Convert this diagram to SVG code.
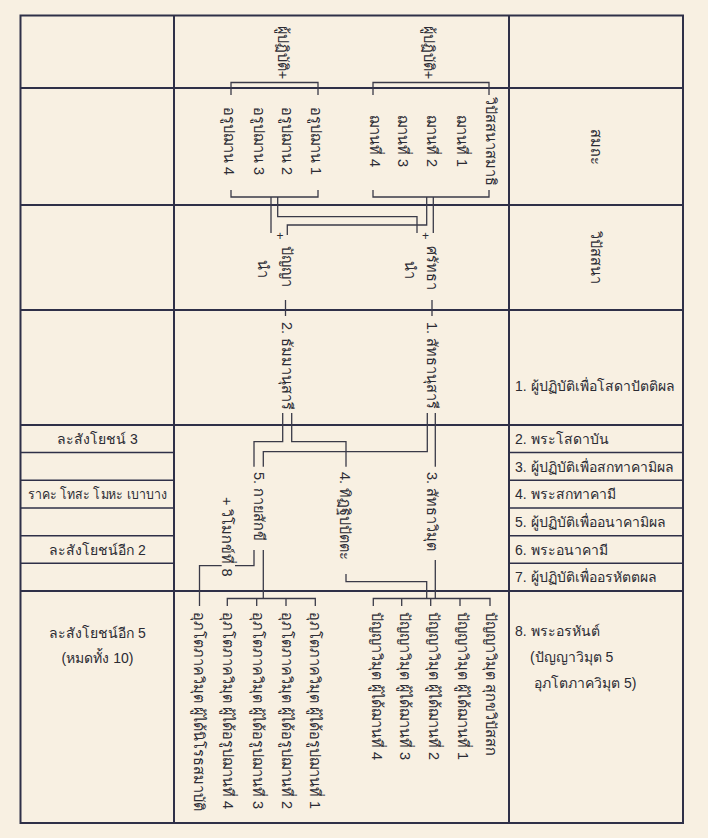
<svg xmlns="http://www.w3.org/2000/svg" width="708" height="838" viewBox="0 0 708 838">
<style>
.grid{stroke:#2f3048;stroke-width:2;fill:none}
.sub{stroke:#2f3048;stroke-width:1.6;fill:none}
.con{stroke:#3a3a48;stroke-width:1.3;fill:none}
text{font-family:"Liberation Sans","Noto Sans",sans-serif;font-size:14px;fill:#2b2b33}
.r{font-size:14.5px}
.m{text-anchor:middle}
</style>
<rect x="0" y="0" width="708" height="838" fill="#f8f0e2"/>
<g id="table">
<rect class="grid" x="20.5" y="15.5" width="662.5" height="807.5"/>
<line class="grid" x1="174" y1="15.5" x2="174" y2="823"/>
<line class="grid" x1="509" y1="15.5" x2="509" y2="823"/>
<line class="grid" x1="20.5" y1="88" x2="683" y2="88"/>
<line class="grid" x1="20.5" y1="205" x2="683" y2="205"/>
<line class="grid" x1="20.5" y1="310" x2="683" y2="310"/>
<line class="grid" x1="20.5" y1="425" x2="683" y2="425"/>
<line class="grid" x1="20.5" y1="591" x2="683" y2="591"/>
<path class="sub" d="M20.5,452.5H174M20.5,480.3H174M20.5,508H174M20.5,535.7H174M20.5,563.3H174"/>
<path class="sub" d="M509,452.5H683M509,480.3H683M509,508H683M509,535.7H683M509,563.3H683"/>
</g>
<g id="connectors">
<path class="con" d="M231,95V82.5H318V95M373,95V82.5H489V95"/>
<path class="con" d="M231,190V197H318V190M373,190V197H489V190"/>
<path class="con" d="M271,197V233M277.7,197V216.7H417V233M426.7,197V225H287.3V235M433.3,197V233"/>
<path class="con" d="M285.5,300V316M432,300V316"/>
<path class="con" d="M282.7,413V441.7H254V466.7M291.7,413V441.7H346V466.7M427.3,413V451.7H263.3V466.7M435.3,413V466.7"/>
<path class="con" d="M254,550V565.7H235M221.7,565.7H199.5V606M263.3,550V598.5M346,574V581.7H426.7V598.5M435.3,560V598.5"/>
<path class="con" d="M227.3,606V598.5H315.3V606M256.7,598.5V606M286,598.5V606"/>
<path class="con" d="M373.3,606V598.5H490V606M401.7,598.5V606M430.7,598.5V606M460,598.5V606"/>
</g>
<g id="top-labels">
<text class="m r" transform="translate(277.5,52.5) rotate(90)">ผู้ปฏิบัติ+</text>
<text class="m r" transform="translate(423.5,52.5) rotate(90)">ผู้ปฏิบัติ+</text>
</g>
<g id="jhana">
<text class="m r" transform="translate(486,141) rotate(90)">วิปัสสนาสมาธิ</text>
<text class="m r" transform="translate(456.5,141) rotate(90)">ฌานที่ 1</text>
<text class="m r" transform="translate(427,141) rotate(90)">ฌานที่ 2</text>
<text class="m r" transform="translate(398,141) rotate(90)">ฌานที่ 3</text>
<text class="m r" transform="translate(369.5,141) rotate(90)">ฌานที่ 4</text>
</g>
<g id="arupa">
<text class="m r" transform="translate(311,141) rotate(90)">อรูปฌาน 1</text>
<text class="m r" transform="translate(282,141) rotate(90)">อรูปฌาน 2</text>
<text class="m r" transform="translate(253.5,141) rotate(90)">อรูปฌาน 3</text>
<text class="m r" transform="translate(224,141) rotate(90)">อรูปฌาน 4</text>
</g>
<g id="panya">
<text x="276.5" y="240" style="font-size:12px">+</text>
<text class="r" transform="translate(282,246) rotate(90)">ปัญญา</text>
<text class="r" transform="translate(258,260) rotate(90)">นำ</text>
</g>
<g id="saddha">
<text x="422" y="240" style="font-size:12px">+</text>
<text class="r" transform="translate(427,246) rotate(90)">ศรัทธา</text>
<text class="r" transform="translate(405,261) rotate(90)">นำ</text>
</g>
<g id="dhammanusari"><text class="r" transform="translate(282,322) rotate(90)">2. ธัมมานุสารี</text></g>
<g id="saddhanusari"><text class="r" transform="translate(427,322) rotate(90)">1. สัทธานุสารี</text></g>
<g id="kayasakkhi"><text class="r" transform="translate(253.5,472) rotate(90)">5. กายสักขี</text></g>
<g id="ditthippatta"><text class="r" transform="translate(340,472) rotate(90)">4. ทิฏฐิปปัตตะ</text></g>
<g id="saddhavimutta"><text class="r" transform="translate(427,472) rotate(90)">3. สัทธาวิมุต</text></g>
<g id="vimokkha8"><text class="r" transform="translate(222,497) rotate(90)">+ วิโมกข์ที่ 8</text></g>
<g id="panyavimutta">
<text class="r" transform="translate(486,612) rotate(90)">ปัญญาวิมุต สุกขวิปัสสก</text>
<text class="r" transform="translate(458,612) rotate(90)">ปัญญาวิมุต ผู้ได้ฌานที่ 1</text>
<text class="r" transform="translate(428.5,612) rotate(90)">ปัญญาวิมุต ผู้ได้ฌานที่ 2</text>
<text class="r" transform="translate(400,612) rotate(90)">ปัญญาวิมุต ผู้ได้ฌานที่ 3</text>
<text class="r" transform="translate(371.5,612) rotate(90)">ปัญญาวิมุต ผู้ได้ฌานที่ 4</text>
</g>
<g id="ubhato">
<text class="r" transform="translate(310,612) rotate(90)">อุภโตภาควิมุต ผู้ได้อรูปฌานที่ 1</text>
<text class="r" transform="translate(281.7,612) rotate(90)">อุภโตภาควิมุต ผู้ได้อรูปฌานที่ 2</text>
<text class="r" transform="translate(253.3,612) rotate(90)">อุภโตภาควิมุต ผู้ได้อรูปฌานที่ 3</text>
<text class="r" transform="translate(223.3,612) rotate(90)">อุภโตภาควิมุต ผู้ได้อรูปฌานที่ 4</text>
<text class="r" transform="translate(194,612) rotate(90)">อุภโตภาควิมุต ผู้ได้นิโรธสมาบัติ</text>
</g>
<g id="right-col">
<text class="m r" transform="translate(591,147) rotate(90)">สมถะ</text>
<text class="m r" transform="translate(591,257) rotate(90)">วิปัสสนา</text>
<text x="515" y="391">1. ผู้ปฏิบัติเพื่อโสดาปัตติผล</text>
<text x="515" y="444">2. พระโสดาบัน</text>
<text x="515" y="471.5">3. ผู้ปฏิบัติเพื่อสกทาคามิผล</text>
<text x="515" y="499">4. พระสกทาคามี</text>
<text x="515" y="527">5. ผู้ปฏิบัติเพื่ออนาคามิผล</text>
<text x="515" y="554.5">6. พระอนาคามี</text>
<text x="515" y="582">7. ผู้ปฏิบัติเพื่ออรหัตตผล</text>
<text x="515" y="636">8. พระอรหันต์</text>
<text x="530" y="662">(ปัญญาวิมุต 5</text>
<text x="534" y="688">อุภโตภาควิมุต 5)</text>
</g>
<g id="left-col">
<text class="m" x="97.5" y="444">ละสังโยชน์ 3</text>
<text class="m" x="97.5" y="499" textLength="140" lengthAdjust="spacingAndGlyphs">ราคะ โทสะ โมหะ เบาบาง</text>
<text class="m" x="97.5" y="554.5">ละสังโยชน์อีก 2</text>
<text class="m" x="97.5" y="638">ละสังโยชน์อีก 5</text>
<text class="m" x="97.5" y="663">(หมดทั้ง 10)</text>
</g>
</svg>
